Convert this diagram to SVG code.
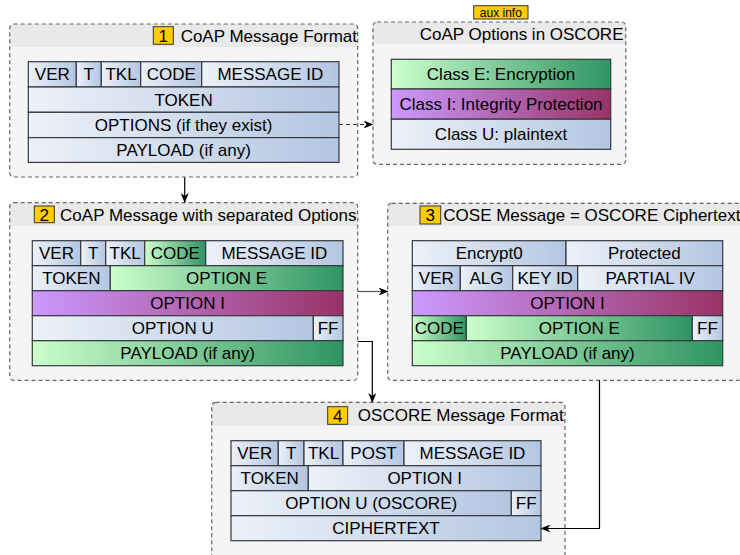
<svg xmlns="http://www.w3.org/2000/svg" width="740" height="555" viewBox="0 0 740 555">
<defs>
<linearGradient id="gB" x1="0" y1="0" x2="1" y2="0"><stop offset="0" stop-color="#edf1f9"/><stop offset="1" stop-color="#b3c6e1"/></linearGradient>
<linearGradient id="gG" x1="0" y1="0" x2="1" y2="0"><stop offset="0" stop-color="#ccffcc"/><stop offset="1" stop-color="#2f9462"/></linearGradient>
<linearGradient id="gP" x1="0" y1="0" x2="1" y2="0"><stop offset="0" stop-color="#cc99ff"/><stop offset="1" stop-color="#993366"/></linearGradient>
<marker id="arr" viewBox="0 0 10 8" refX="9" refY="4" markerWidth="10" markerHeight="8" markerUnits="userSpaceOnUse" orient="auto"><path d="M0,0 L10,4 L0,8 L3,4 Z" fill="#000"/></marker>
<style>
.body{fill:#f5f5f5;stroke:none}
.hdr{fill:#e9e9e9;stroke:none}
.frame{fill:none;stroke:#666;stroke-width:1.2;stroke-dasharray:4 3}
.b{fill:url(#gB);stroke:#36393d;stroke-width:1.2}
.g{fill:url(#gG);stroke:#36393d;stroke-width:1.2}
.p{fill:url(#gP);stroke:#36393d;stroke-width:1.2}
.badge{fill:#ffcc00;stroke:#333;stroke-width:1}
text{font-family:"Liberation Sans",Arial,sans-serif;font-size:17px;fill:#000}
.c{text-anchor:middle}
.e{text-anchor:end}
.small{font-size:12px}
.con{fill:none;stroke:#000;stroke-width:1.2}
</style>
</defs>

<g id="panel1">
<rect class="body" x="9.7" y="24" width="348" height="153" rx="4"/>
<rect class="hdr" x="9.7" y="24" width="348" height="22.7" rx="4"/>
<rect class="hdr" x="9.7" y="30" width="348" height="16.7"/>
<rect class="frame" x="9.7" y="24" width="348" height="153" rx="4"/>
<rect class="badge" x="153.3" y="26.7" width="20" height="17.6"/>
<text class="c" x="163.3" y="41.7">1</text>
<text class="e" x="357" y="41.7">CoAP Message Format</text>
<rect class="b" x="28.3" y="61.7" width="48" height="25.3"/><text class="c" x="52.3" y="80.3">VER</text>
<rect class="b" x="76.3" y="61.7" width="25" height="25.3"/><text class="c" x="88.8" y="80.3">T</text>
<rect class="b" x="101.3" y="61.7" width="39.4" height="25.3"/><text class="c" x="121" y="80.3">TKL</text>
<rect class="b" x="140.7" y="61.7" width="61" height="25.3"/><text class="c" x="171.2" y="80.3">CODE</text>
<rect class="b" x="201.7" y="61.7" width="137.3" height="25.3"/><text class="c" x="270.3" y="80.3">MESSAGE ID</text>
<rect class="b" x="28.3" y="87" width="310.7" height="25.3"/><text class="c" x="183.6" y="105.6">TOKEN</text>
<rect class="b" x="28.3" y="112.3" width="310.7" height="25.3"/><text class="c" x="183.6" y="130.9">OPTIONS (if they exist)</text>
<rect class="b" x="28.3" y="137.6" width="310.7" height="24.8"/><text class="c" x="183.6" y="156">PAYLOAD (if any)</text>
</g>

<g id="aux">
<rect class="badge" x="473.7" y="5.7" width="54.3" height="13.3"/>
<text class="c small" x="500.8" y="16.6">aux info</text>
<rect class="body" x="373" y="22" width="252.7" height="142.3" rx="4"/>
<rect class="hdr" x="373" y="22" width="252.7" height="21.3" rx="4"/>
<rect class="hdr" x="373" y="28" width="252.7" height="15.3"/>
<rect class="frame" x="373" y="22" width="252.7" height="142.3" rx="4"/>
<text class="e" x="623.5" y="39.5">CoAP Options in OSCORE</text>
<rect class="g" x="391.3" y="59.3" width="219.4" height="29.7"/><text class="c" x="501" y="80">Class E: Encryption</text>
<rect class="p" x="391.3" y="89" width="219.4" height="30.2"/><text class="c" x="501" y="110">Class I: Integrity Protection</text>
<rect class="b" x="391.3" y="119.2" width="219.4" height="30.1"/><text class="c" x="501" y="140.2">Class U: plaintext</text>
</g>

<g id="panel2">
<rect class="body" x="9.7" y="202.7" width="348" height="177.6" rx="4"/>
<rect class="hdr" x="9.7" y="202.7" width="348" height="23" rx="4"/>
<rect class="hdr" x="9.7" y="208" width="348" height="17.7"/>
<rect class="frame" x="9.7" y="202.7" width="348" height="177.6" rx="4"/>
<rect class="badge" x="34.3" y="206" width="20" height="16.7"/>
<text class="c" x="44.3" y="220.6">2</text>
<text class="e" x="356.5" y="220.7">CoAP Message with separated Options</text>
<rect class="b" x="32.3" y="240.7" width="48.4" height="25"/><text class="c" x="56.5" y="259.2">VER</text>
<rect class="b" x="80.7" y="240.7" width="25" height="25"/><text class="c" x="93.2" y="259.2">T</text>
<rect class="b" x="105.7" y="240.7" width="39" height="25"/><text class="c" x="125.2" y="259.2">TKL</text>
<rect class="g" x="144.7" y="240.7" width="61" height="25"/><text class="c" x="175.2" y="259.2">CODE</text>
<rect class="b" x="205.7" y="240.7" width="137.3" height="25"/><text class="c" x="274.3" y="259.2">MESSAGE ID</text>
<rect class="b" x="32.3" y="265.7" width="78" height="25"/><text class="c" x="71.3" y="284.2">TOKEN</text>
<rect class="g" x="110.3" y="265.7" width="232.7" height="25"/><text class="c" x="226.6" y="284.2">OPTION E</text>
<rect class="p" x="32.3" y="290.7" width="310.7" height="25"/><text class="c" x="187.6" y="309.2">OPTION I</text>
<rect class="b" x="32.3" y="315.7" width="281" height="25"/><text class="c" x="172.8" y="334.2">OPTION U</text>
<rect class="b" x="313.3" y="315.7" width="29.7" height="25"/><text class="c" x="328.1" y="334.2">FF</text>
<rect class="g" x="32.3" y="340.7" width="310.7" height="25"/><text class="c" x="187.6" y="359.2">PAYLOAD (if any)</text>
</g>

<g id="panel3">
<rect class="body" x="387.7" y="203.3" width="354" height="177" rx="4"/>
<rect class="hdr" x="387.7" y="203.3" width="354" height="22.7" rx="4"/>
<rect class="hdr" x="387.7" y="209" width="354" height="17"/>
<rect class="frame" x="387.7" y="203.3" width="354" height="177" rx="4"/>
<rect class="badge" x="420" y="206" width="20.7" height="18"/>
<text class="c" x="430.3" y="221">3</text>
<text x="443.3" y="220.7">COSE Message = OSCORE Ciphertext</text>
<rect class="b" x="412.3" y="240.7" width="153.7" height="25"/><text class="c" x="489.2" y="259.2">Encrypt0</text>
<rect class="b" x="566" y="240.7" width="156.7" height="25"/><text class="c" x="644.3" y="259.2">Protected</text>
<rect class="b" x="412.3" y="265.7" width="48" height="25"/><text class="c" x="436.3" y="284.2">VER</text>
<rect class="b" x="460.3" y="265.7" width="52.4" height="25"/><text class="c" x="486.5" y="284.2">ALG</text>
<rect class="b" x="512.7" y="265.7" width="65" height="25"/><text class="c" x="545.2" y="284.2">KEY ID</text>
<rect class="b" x="577.7" y="265.7" width="145" height="25"/><text class="c" x="650.2" y="284.2">PARTIAL IV</text>
<rect class="p" x="412.3" y="290.7" width="310.4" height="25"/><text class="c" x="567.5" y="309.2">OPTION I</text>
<rect class="g" x="412.3" y="315.7" width="54" height="25"/><text class="c" x="439.3" y="334.2">CODE</text>
<rect class="g" x="466.3" y="315.7" width="226" height="25"/><text class="c" x="579.3" y="334.2">OPTION E</text>
<rect class="b" x="692.3" y="315.7" width="30.4" height="25"/><text class="c" x="707.5" y="334.2">FF</text>
<rect class="g" x="412.3" y="340.7" width="310.4" height="25"/><text class="c" x="567.5" y="359.2">PAYLOAD (if any)</text>
</g>

<g id="panel4">
<rect class="body" x="211.7" y="402.3" width="353.3" height="160" rx="4"/>
<rect class="hdr" x="211.7" y="402.3" width="353.3" height="23.4" rx="4"/>
<rect class="hdr" x="211.7" y="408" width="353.3" height="17.7"/>
<rect class="frame" x="211.7" y="402.3" width="353.3" height="160" rx="4"/>
<rect class="badge" x="327.7" y="406.7" width="20" height="17.6"/>
<text class="c" x="337.7" y="421.5">4</text>
<text class="e" x="563.8" y="420.7">OSCORE Message Format</text>
<rect class="b" x="231" y="440.7" width="47.3" height="25"/><text class="c" x="254.7" y="459.2">VER</text>
<rect class="b" x="278.3" y="440.7" width="25.7" height="25"/><text class="c" x="291.2" y="459.2">T</text>
<rect class="b" x="304" y="440.7" width="39" height="25"/><text class="c" x="323.5" y="459.2">TKL</text>
<rect class="b" x="343" y="440.7" width="61" height="25"/><text class="c" x="373.5" y="459.2">POST</text>
<rect class="b" x="404" y="440.7" width="137" height="25"/><text class="c" x="472.5" y="459.2">MESSAGE ID</text>
<rect class="b" x="231" y="465.7" width="77.3" height="25"/><text class="c" x="269.7" y="484.2">TOKEN</text>
<rect class="b" x="308.3" y="465.7" width="232.7" height="25"/><text class="c" x="424.7" y="484.2">OPTION I</text>
<rect class="b" x="231" y="490.7" width="280.3" height="25"/><text class="c" x="371.2" y="509.2">OPTION U (OSCORE)</text>
<rect class="b" x="511.3" y="490.7" width="29.7" height="25"/><text class="c" x="526.2" y="509.2">FF</text>
<rect class="b" x="231" y="515.7" width="310" height="25"/><text class="c" x="386" y="534.2">CIPHERTEXT</text>
</g>

<g id="connectors">
<path class="con" d="M184.7,177.5 L184.7,202" marker-end="url(#arr)"/>
<path class="con" d="M339,124.5 L372.5,124.5" stroke-dasharray="4 3" style="stroke:#333" marker-end="url(#arr)"/>
<path class="con" d="M357.7,291.5 L387.5,291.5" style="stroke:#555" marker-end="url(#arr)"/>
<path class="con" d="M357.7,341.5 L372.3,341.5 L372.3,402" marker-end="url(#arr)"/>
<path class="con" d="M599.5,380.3 L599.5,528.5 L541.5,528.5" marker-end="url(#arr)"/>
</g>
</svg>
